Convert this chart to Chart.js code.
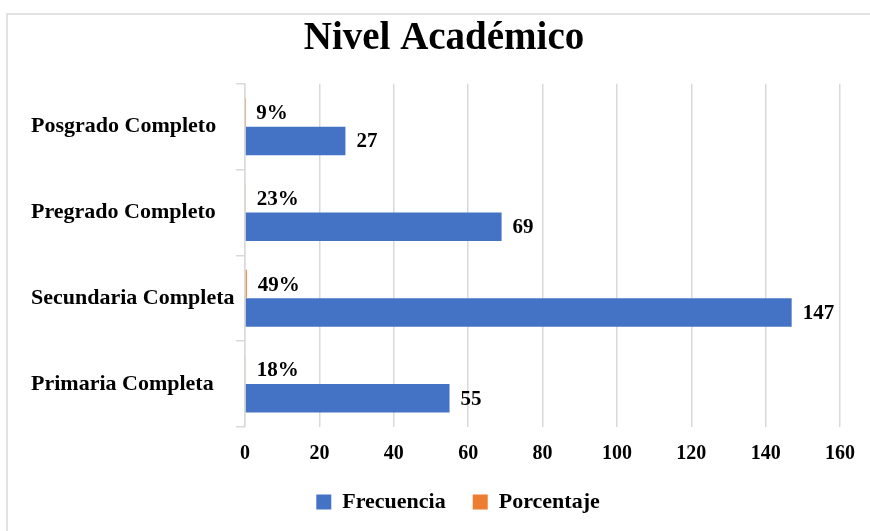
<!DOCTYPE html>
<html>
<head>
<meta charset="utf-8">
<title>Nivel Académico</title>
<script src="https://cdn.jsdelivr.net/npm/chart.js"></script>
<style>
  html, body { margin: 0; padding: 0; background: #fff; }
  #wrap { width: 870px; height: 531px; }
</style>
</head>
<body>
<div id="wrap"><canvas id="chart" width="870" height="531"></canvas></div>
<script>
const categories = ['Posgrado Completo', 'Pregrado Completo', 'Secundaria Completa', 'Primaria Completa'];
const frecuencia = [27, 69, 147, 55];
const porcentaje = [0.09, 0.23, 0.49, 0.18];
const xTicks = [0, 20, 40, 60, 80, 100, 120, 140, 160];

const serif = '"Liberation Serif", "Times New Roman", serif';
const gridColor = '#d9d9d9';

// white background and the thin frame around the chart
const framePlugin = {
  id: 'frame',
  beforeDraw(chart) {
    const ctx = chart.ctx;
    ctx.save();
    ctx.fillStyle = '#fff';
    ctx.fillRect(0, 0, chart.width, chart.height);
    ctx.strokeStyle = gridColor;
    ctx.lineWidth = 1.5;
    ctx.strokeRect(7, 14, chart.width + 10, chart.height + 10);
    ctx.restore();
  }
};

// title and legend sit a bit right of the canvas centre in the original
const boxShift = {
  id: 'boxShift',
  afterLayout(chart) {
    chart.legend.left += 21;
    chart.legend.right += 21;
    chart.titleBlock.left += 7;
    chart.titleBlock.right += 7;
  }
};

// value labels next to the bar ends
const valueLabels = {
  id: 'valueLabels',
  afterDatasetsDraw(chart) {
    const ctx = chart.ctx;
    ctx.save();
    ctx.font = 'bold 21px ' + serif;
    ctx.fillStyle = '#000';
    ctx.textAlign = 'left';
    ctx.textBaseline = 'middle';
    chart.data.datasets.forEach((ds, i) => {
      const meta = chart.getDatasetMeta(i);
      meta.data.forEach((bar, j) => {
        const v = ds.data[j];
        const txt = ds.label === 'Porcentaje' ? Math.round(v * 100) + '%' : String(v);
        ctx.fillText(txt, bar.x + 11, bar.y + 1);
      });
    });
    ctx.restore();
  }
};

new Chart(document.getElementById('chart'), {
  type: 'bar',
  data: {
    labels: categories,
    datasets: [
      {
        label: 'Porcentaje',
        data: porcentaje,
        backgroundColor: '#ED7D31',
        categoryPercentage: 0.663,
        barPercentage: 1
      },
      {
        label: 'Frecuencia',
        data: frecuencia,
        backgroundColor: '#4472C4',
        categoryPercentage: 0.663,
        barPercentage: 1
      }
    ]
  },
  options: {
    indexAxis: 'y',
    responsive: false,
    animation: false,
    layout: { padding: { left: 31, right: 27, top: 0, bottom: 8 } },
    scales: {
      x: {
        min: 0,
        max: 160,
        afterBuildTicks: (s) => { s.ticks = xTicks.map(v => ({ value: v })); },
        afterFit: (s) => { s.height = 37; },
        grid: { color: gridColor, lineWidth: 1.5, drawTicks: false },
        border: { display: false },
        ticks: {
          padding: 15,
          color: '#000',
          font: { family: serif, size: 20, weight: 'bold' }
        }
      },
      y: {
        afterFit: (s) => { s.width = 214; },
        grid: {
          color: gridColor,
          lineWidth: 1.5,
          drawOnChartArea: false,
          tickLength: 9,
          offset: true
        },
        border: { color: gridColor, width: 1.5 },
        ticks: {
          crossAlign: 'far',
          color: '#000',
          font: { family: serif, size: 22, weight: 'bold' }
        }
      }
    },
    plugins: {
      title: {
        display: true,
        text: 'Nivel Académico',
        color: '#000',
        font: { family: serif, size: 39, weight: 'bold' },
        padding: { top: 16, bottom: 21 }
      },
      legend: {
        position: 'bottom',
        reverse: true,
        labels: {
          color: '#000',
          boxWidth: 15,
          boxHeight: 15,
          padding: 27,
          font: { family: serif, size: 22, weight: 'bold' }
        }
      },
      tooltip: { enabled: false }
    }
  },
  plugins: [framePlugin, boxShift, valueLabels]
});
</script>
</body>
</html>
